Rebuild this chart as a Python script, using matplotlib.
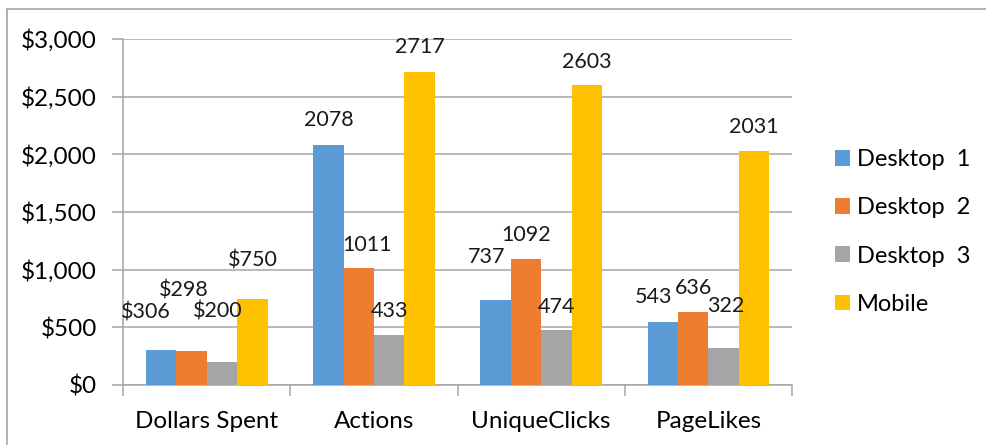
import matplotlib
matplotlib.use("Agg")
import matplotlib.pyplot as plt
import numpy as np
from matplotlib.ticker import FuncFormatter
from matplotlib.patches import Patch
from matplotlib.lines import Line2D

plt.rcParams['font.family'] = ['Lato', 'DejaVu Sans']

categories = ["Dollars Spent", "Actions", "UniqueClicks", "PageLikes"]
series = ["Desktop  1", "Desktop  2", "Desktop  3", "Mobile"]
desktop1 = [306, 2078, 737, 543]
desktop2 = [298, 1011, 1092, 636]
desktop3 = [200, 433, 474, 322]
mobile = [750, 2717, 2603, 2031]
values = [desktop1, desktop2, desktop3, mobile]
colors = ["#5B9BD5", "#ED7D31", "#A5A5A5", "#FFC000"]

# label nudges (pixels) from bar top centre, per category then series
label_nudge = [
    [(-15, 37), (-8, 60), (-4, 50), (0, 38)],
    [(0, 25), (8, 23), (0, 24), (0, 25)],
    [(-9, 43), (0, 24), (0, 23), (0, 23)],
    [(-9, 25), (0, 24), (2, 42), (0, 24)],
]

W, H = 987, 445
fig = plt.figure(figsize=(W / 100, H / 100), dpi=100)
ax = fig.add_axes([123.3 / W, 60 / H, (792 - 123.3) / W, 346 / H])

grid_color = "#A6A6A6"
x = np.arange(len(categories))
width = 0.182
for i, (name, vals) in enumerate(zip(series, values)):
    offset = (i - 1.5) * width
    ax.bar(x + offset, vals, width, color=colors[i], label=name, zorder=3)
    for j, v in enumerate(vals):
        txt = f"${v:,}" if j == 0 else f"{v}"
        dx, dy = label_nudge[j][i]
        ax.annotate(txt, (x[j] + offset, v), xytext=(dx, dy),
                    textcoords="offset pixels", ha="center", va="center",
                    fontsize=15.5, color="#1a1a1a", zorder=4)

ax.set_xlim(-0.5, len(categories) - 0.5)
ax.set_ylim(0, 3000)
ax.set_yticks(np.arange(0, 3001, 500))
ax.yaxis.set_major_formatter(FuncFormatter(lambda v, p: f"${v:,.0f}"))
ax.grid(axis="y", color=grid_color, linewidth=1.1, zorder=0)

ax.set_xticks(x)
ax.set_xticklabels(categories)
ax.set_xticks(np.arange(-0.5, len(categories)), minor=True)
ax.tick_params(axis="x", which="major", length=0, pad=19, labelsize=17.5)
ax.tick_params(axis="x", which="minor", length=8, color=grid_color, width=1.1)
ax.tick_params(axis="y", length=8, color=grid_color, width=1.1, pad=11,
               labelsize=17.5)

for s in ["top", "right"]:
    ax.spines[s].set_visible(False)
for s in ["left", "bottom"]:
    ax.spines[s].set_color(grid_color)
    ax.spines[s].set_linewidth(1.1)

handles = [Patch(facecolor=c, edgecolor="none") for c in colors]
fig.legend(handles, series, loc="center left",
           bbox_to_anchor=(835 / W, 1 - 232 / H), frameon=False,
           fontsize=17, handlelength=0.64, handleheight=0.64,
           handletextpad=0.3, labelspacing=1.15, borderpad=0,
           borderaxespad=0)

# outer chart border (top and left visible)
fig.add_artist(Line2D([7 / W, 1], [1 - 9.3 / H, 1 - 9.3 / H],
                      transform=fig.transFigure, color="#ABABAB", lw=1.3))
fig.add_artist(Line2D([7 / W, 7 / W], [0, 1 - 9.3 / H],
                      transform=fig.transFigure, color="#ABABAB", lw=1.3))

fig.savefig("out.png", dpi=100)
